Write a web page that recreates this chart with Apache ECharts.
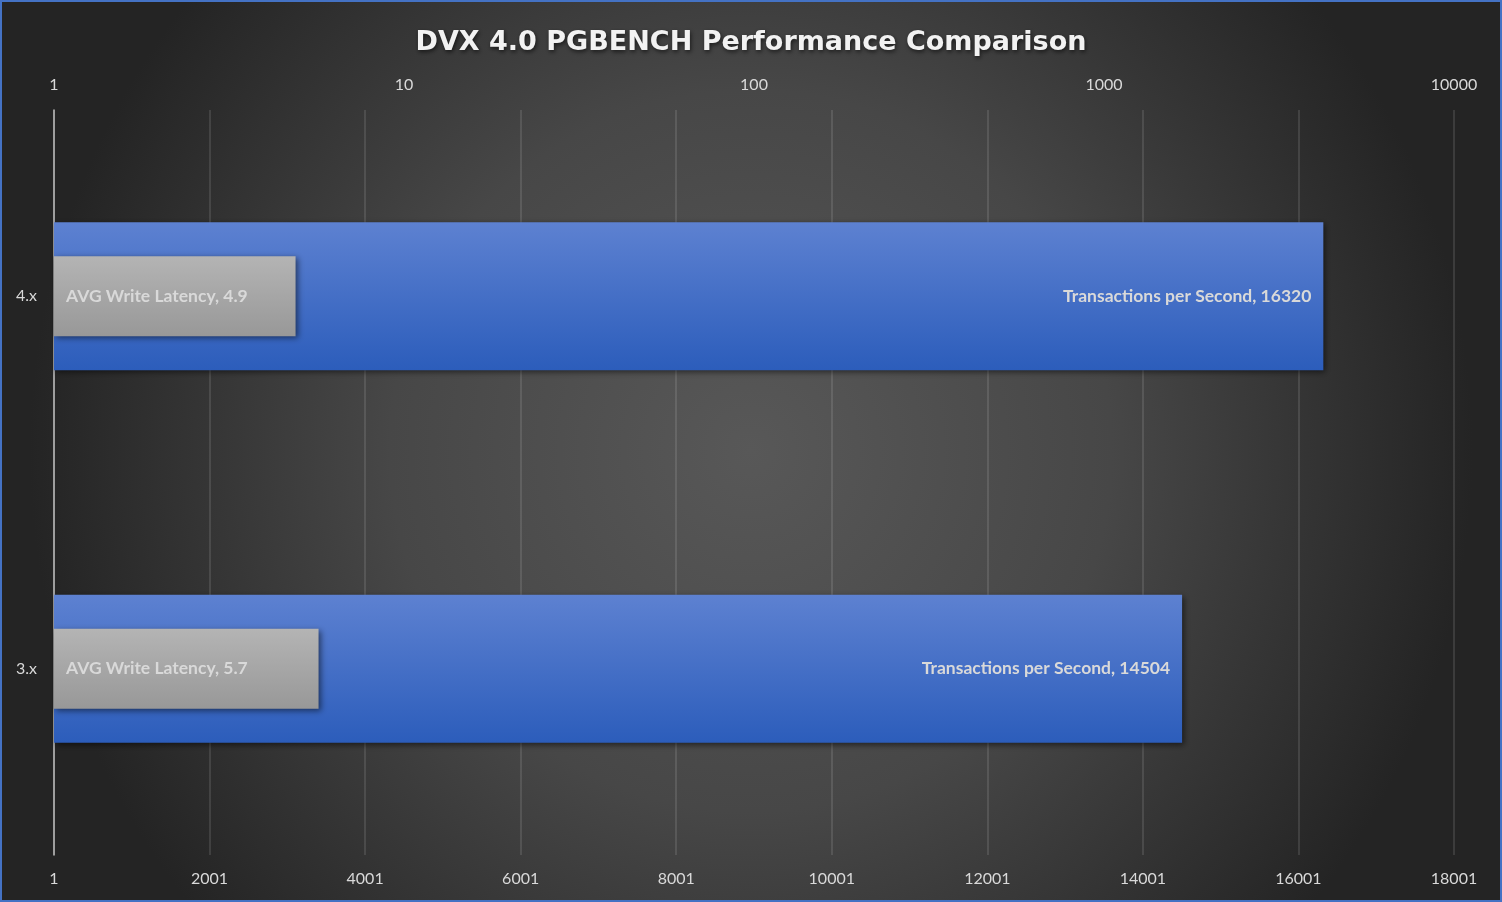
<!DOCTYPE html>
<html>
<head>
<meta charset="utf-8">
<title>DVX 4.0 PGBENCH Performance Comparison</title>
<script src="https://cdn.jsdelivr.net/npm/echarts@6/dist/echarts.min.js"></script>
<style>
  html, body { margin: 0; padding: 0; background: #262626; }
  #main { width: 1502px; height: 902px; }
</style>
</head>
<body>
<div id="main"></div>
<script>
// 数据
var versions = ['4.x', '3.x'];
var tpsName = 'Transactions per Second';
var tpsValues = [16320, 14504];
var latencyName = 'AVG Write Latency';
var latencyValues = [4.9, 5.7];

var chart = echarts.init(document.getElementById('main'));

var labelColor = '#d9d9d9';
var fontFamily = 'Lato, "Open Sans", sans-serif';

chart.setOption({
  backgroundColor: {
    type: 'radial', x: 0.5, y: 0.5, r: 0.8,
    colorStops: [
      { offset: 0, color: '#585858' },
      { offset: 0.5, color: '#474747' },
      { offset: 1, color: '#242424' }
    ]
  },
  graphic: [{
    type: 'rect',
    shape: { x: 1, y: 1, width: 1500, height: 900 },
    style: { fill: 'none', stroke: '#4472c4', lineWidth: 2 },
    silent: true,
    z: 100
  }],
  title: {
    text: 'DVX 4.0 PGBENCH Performance Comparison',
    left: 'center',
    top: 24,
    textStyle: {
      color: '#f2f2f2',
      fontFamily: '"DejaVu Sans", sans-serif',
      fontWeight: 'bold',
      fontSize: 27,
      textShadowColor: 'rgba(0,0,0,0.6)',
      textShadowBlur: 4,
      textShadowOffsetX: 1,
      textShadowOffsetY: 2
    }
  },
  grid: {
    left: 54,
    right: 48,
    top: 110,
    bottom: 47
  },
  xAxis: [
    {
      // 下方线性轴
      type: 'value',
      position: 'bottom',
      min: 0,
      max: 18000,
      interval: 2000,
      axisLine: { show: false },
      axisTick: { show: false },
      axisLabel: {
        color: labelColor,
        fontFamily: fontFamily,
        fontSize: 16,
        margin: 16,
        formatter: function (v) { return String(v + 1); }
      },
      splitLine: { show: true, lineStyle: { color: 'rgba(255,255,255,0.11)', width: 2 } }
    },
    {
      // 上方对数轴
      type: 'log',
      logBase: 10,
      position: 'top',
      min: 1,
      max: 10000,
      axisLine: { show: false },
      axisTick: { show: false },
      axisLabel: {
        color: labelColor,
        fontFamily: fontFamily,
        fontSize: 16,
        margin: 17,
        formatter: function (v) { return String(Math.round(v)); }
      },
      splitLine: { show: false }
    }
  ],
  yAxis: [
    {
      type: 'category',
      inverse: true,
      data: versions,
      axisLine: { show: true, lineStyle: { color: '#bfbfbf', width: 1.5 } },
      axisTick: { show: false },
      axisLabel: {
        color: labelColor,
        fontFamily: fontFamily,
        fontSize: 16,
        margin: 17
      },
      splitLine: { show: false }
    },
    {
      type: 'category',
      inverse: true,
      data: versions,
      show: false
    }
  ],
  series: [
    {
      name: tpsName,
      type: 'bar',
      xAxisIndex: 0,
      yAxisIndex: 0,
      barWidth: 148,
      data: tpsValues,
      itemStyle: {
        color: new echarts.graphic.LinearGradient(0, 0, 0, 1, [
          { offset: 0, color: '#5d81d1' },
          { offset: 1, color: '#2c5dbb' }
        ]),
        shadowColor: 'rgba(0,0,0,0.55)',
        shadowBlur: 6,
        shadowOffsetX: 2,
        shadowOffsetY: 2
      },
      label: {
        show: true,
        position: 'insideRight',
        distance: 12,
        color: labelColor,
        fontFamily: fontFamily,
        fontWeight: 'bold',
        fontSize: 17.5,
        formatter: function (p) { return tpsName + ', ' + p.value; }
      },
      z: 2
    },
    {
      name: latencyName,
      type: 'bar',
      xAxisIndex: 1,
      yAxisIndex: 1,
      barWidth: 80,
      data: latencyValues,
      itemStyle: {
        color: new echarts.graphic.LinearGradient(0, 0, 0, 1, [
          { offset: 0, color: '#b4b4b4' },
          { offset: 1, color: '#989898' }
        ]),
        shadowColor: 'rgba(0,0,0,0.5)',
        shadowBlur: 6,
        shadowOffsetX: 2,
        shadowOffsetY: 2
      },
      label: {
        show: true,
        position: 'insideLeft',
        distance: 12,
        color: labelColor,
        fontFamily: fontFamily,
        fontWeight: 'bold',
        fontSize: 17.5,
        formatter: function (p) { return latencyName + ', ' + p.value; }
      },
      z: 3
    }
  ]
});
</script>
</body>
</html>
